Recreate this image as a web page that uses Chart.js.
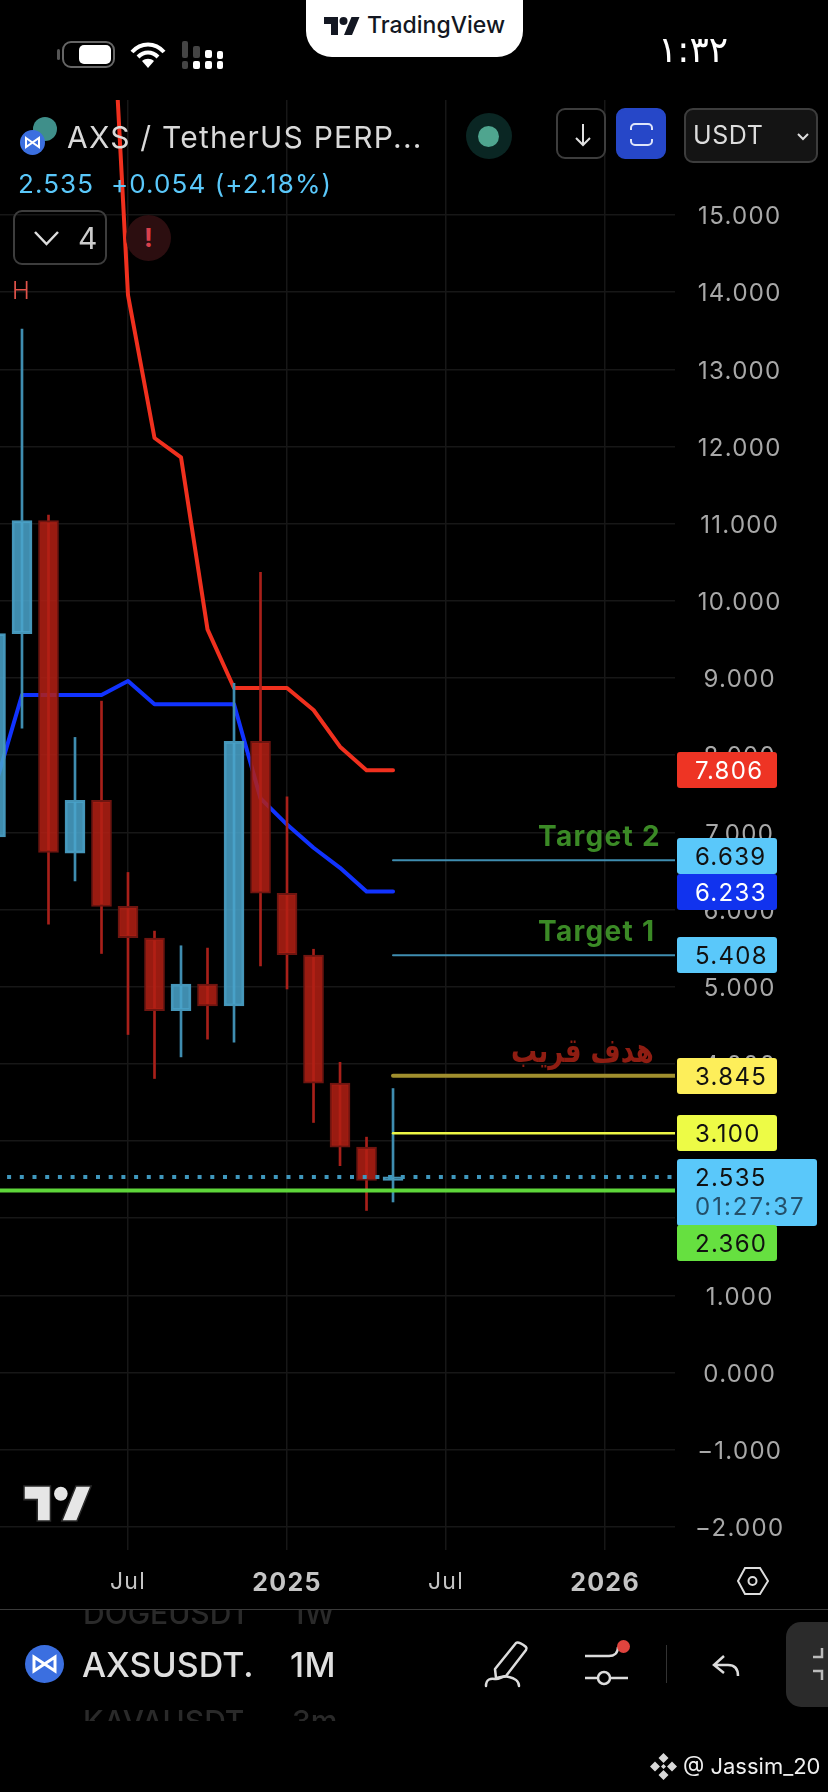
<!DOCTYPE html>
<html>
<head>
<meta charset="utf-8">
<title>AXS / TetherUS PERP</title>
<script src="https://cdn.jsdelivr.net/npm/chart.js@4/dist/chart.umd.min.js"></script>
<style>
  html, body { margin: 0; padding: 0; background: #000; }
  body { width: 828px; height: 1792px; position: relative; overflow: hidden; font-family: Inter, Roboto, sans-serif; color: #ddd; }
  canvas { position: absolute; left: 0; top: 0; }
  .abs { position: absolute; white-space: nowrap; }
  .btn { position: absolute; box-sizing: border-box; border: 2px solid #3d3d3d; border-radius: 9px; }
  svg { position: absolute; overflow: visible; }
</style>
</head>
<body>
<canvas id="chart" width="828" height="1792"></canvas>

<!-- top bar -->
<div class="abs" style="left:306px;top:0;width:217px;height:57px;background:#fff;border-radius:0 0 26px 26px"></div>
<svg style="left:324px;top:17px" width="36" height="18" viewBox="0 0 36 18"><path fill="#131722" d="M14 18H7V7H0V0h14zM28 18h-8L27.5 0h8z"/><circle cx="19.5" cy="4" r="4" fill="#131722"/></svg>
<div class="abs" style="left:367px;top:11px;font-size:23px;font-weight:500;color:#131722">TradingView</div>
<div class="abs" style="left:57px;top:49px;width:3px;height:11px;background:#555;border-radius:2px"></div>
<div class="abs" style="left:62px;top:41px;width:53px;height:27px;box-sizing:border-box;border:2px solid #666;border-radius:9px"></div>
<div class="abs" style="left:79px;top:45px;width:32px;height:19px;background:#fff;border-radius:5px"></div>
<svg style="left:130px;top:42px" width="36" height="26" viewBox="0 0 36 26" fill="none" stroke="#fff" stroke-width="4"><path d="M2 10C11 0 25 0 34 10"/><path d="M8 15C14 9 22 9 28 15"/><path fill="#fff" stroke="none" d="M18 26l-6-7c3.500-3 8.500-3 12 0z"/></svg>
<svg style="left:182px;top:41px" width="42" height="28"><g fill="#444"><rect x="0" y="0" width="6" height="17" rx="2"/><rect x="0" y="20" width="6" height="8" rx="2"/><rect x="11" y="5" width="7" height="12" rx="2"/></g><g fill="#fff"><rect x="11" y="20" width="7" height="8" rx="2"/><rect x="23" y="9" width="7" height="8" rx="2"/><rect x="23" y="20" width="7" height="8" rx="2"/><rect x="35" y="10" width="6" height="8" rx="2"/><rect x="35" y="20" width="6" height="8" rx="2"/></g></svg>
<div class="abs" style="left:658px;top:29px;font-family:'DejaVu Sans';font-size:36px;color:#fff;direction:ltr">١:٣٢</div>

<!-- symbol header -->
<div class="abs" style="left:33px;top:117px;width:24px;height:24px;border-radius:50%;background:#3f8f8a"></div>
<div class="abs" style="left:20px;top:130px;width:25px;height:25px;border-radius:50%;background:#3b6fe0"></div>
<svg style="left:20px;top:130px" width="25" height="25" viewBox="0 0 25 25" fill="none" stroke="#fff" stroke-width="2"><path d="M6 8l13 9V8L6 17z"/></svg>
<div class="abs" style="left:67px;top:119px;font-size:30px;color:#d9d9d9;letter-spacing:1.2px">AXS / TetherUS PERP...</div>
<div class="abs" style="left:18px;top:168px;font-size:26px;color:#5ac8fa;letter-spacing:1.1px">2.535&nbsp; +0.054 (+2.18%)</div>
<div class="abs" style="left:466px;top:113px;width:46px;height:46px;border-radius:50%;background:#0a2623"></div>
<div class="abs" style="left:478px;top:126px;width:21px;height:21px;border-radius:50%;background:#4fa58f"></div>

<div class="btn" style="left:556px;top:108px;width:50px;height:51px"></div>
<svg style="left:572px;top:122px" width="22" height="26" fill="none" stroke="#e0e0e0" stroke-width="2"><path d="M11 2v21M4 16l7 7 7-7"/></svg>
<div class="btn" style="left:616px;top:108px;width:50px;height:51px;background:#2647c8;border-color:#2647c8"></div>
<svg style="left:630px;top:123px" width="23" height="23" fill="none" stroke="#dfe5fa" stroke-width="2"><path d="M1 7V5a4 4 0 0 1 4-4h13a4 4 0 0 1 4 4v2M1 16v2a4 4 0 0 0 4 4h13a4 4 0 0 0 4-4v-2"/></svg>
<div class="btn" style="left:684px;top:108px;width:134px;height:55px;background:#141414"></div>
<div class="abs" style="left:693px;top:120px;font-size:25px;color:#ddd;letter-spacing:.6px">USDT</div>
<svg style="left:797px;top:133px" width="12" height="8" fill="none" stroke="#ddd" stroke-width="2"><path d="M1 1l5 5 5-5"/></svg>

<div class="btn" style="left:13px;top:210px;width:94px;height:55px"></div>
<svg style="left:34px;top:231px" width="25" height="15" fill="none" stroke="#ddd" stroke-width="2.500"><path d="M1 1l11.500 12L24 1"/></svg>
<div class="abs" style="left:78px;top:220px;font-size:30px;color:#ccc">4</div>
<div class="abs" style="left:126px;top:215px;width:45px;height:46px;border-radius:50%;background:#2c0e10"></div>
<div class="abs" style="left:126px;top:222px;width:45px;text-align:center;font-size:26px;font-weight:700;color:#d8404c">!</div>
<div class="abs" style="left:12px;top:276px;font-size:24px;font-weight:300;color:#e0534a">H</div>

<!-- watermark logo on the chart -->
<svg style="left:24px;top:1486px" width="68" height="35" viewBox="0 0 36 18" preserveAspectRatio="none"><path fill="#e6e6e6" stroke="#2a2a2a" stroke-width=".8" d="M14 18H7V7H0V0h14zM28 18h-8L27.500 0h8z"/><circle cx="19.500" cy="4" r="3.600" fill="#e6e6e6"/></svg>

<svg style="left:737px;top:1567px" width="32" height="28" fill="none" stroke="#ddd" stroke-width="2"><path d="M8 1h15l8 13-8 13H8L1 14z"/><circle cx="15.500" cy="14" r="4"/></svg>

<!-- bottom toolbar -->
<div class="abs" style="left:0;top:1609px;width:828px;height:1px;background:#3a3a3a"></div>
<div class="abs" style="left:83px;top:1610px;width:170px;height:20px;overflow:hidden"><div style="font-size:30px;font-weight:500;color:#2a2a2a;margin-top:-15px">DOGEUSDT</div></div>
<div class="abs" style="left:292px;top:1610px;width:50px;height:20px;overflow:hidden"><div style="font-size:30px;font-weight:500;color:#2a2a2a;margin-top:-15px">1W</div></div>
<div class="abs" style="left:83px;top:1704px;width:170px;height:17px;overflow:hidden"><div style="font-size:30px;font-weight:500;color:#2a2a2a;margin-top:-1px">KAVAUSDT</div></div>
<div class="abs" style="left:292px;top:1704px;width:60px;height:17px;overflow:hidden"><div style="font-size:30px;font-weight:500;color:#2a2a2a;margin-top:-1px">3m</div></div>
<div class="abs" style="left:25px;top:1645px;width:39px;height:38px;border-radius:50%;background:#3b6fe0"></div>
<svg style="left:25px;top:1645px" width="39" height="38" viewBox="0 0 39 38" fill="none" stroke="#fff" stroke-width="3"><path d="M9 12l21 14V12L9 26z"/></svg>
<div class="abs" style="left:82px;top:1644px;width:170px;overflow:hidden;font-size:34px;font-weight:500;color:#dedede">AXSUSDT.</div>
<div class="abs" style="left:290px;top:1644px;font-size:34px;font-weight:500;color:#dedede;letter-spacing:.5px">1M</div>
<svg style="left:485px;top:1641px" width="43" height="46" fill="none" stroke="#dcdcdc" stroke-width="2.500" stroke-linejoin="round" stroke-linecap="round"><path d="M10 28L31 2c2-1.500 7 1 10 4 1 1 0 3 0 3L21 35l-10 2z"/><path d="M1 45c0-7 5-8 9-7 5 1 7-4 14-2 5 1 10 4 10 9"/></svg>
<svg style="left:585px;top:1642px" width="44" height="42" fill="none" stroke="#dcdcdc" stroke-width="2.500"><path d="M0 14h24M0 36h13M25 36h18M24 14c5 0 9-3 9-9"/><circle cx="19" cy="36" r="6"/></svg>
<div class="abs" style="left:617px;top:1640px;width:13px;height:13px;border-radius:50%;background:#e0443e"></div>
<div class="abs" style="left:666px;top:1645px;width:1px;height:38px;background:#333"></div>
<svg style="left:712px;top:1655px" width="28" height="22" fill="none" stroke="#dcdcdc" stroke-width="2.500"><path d="M12 1L2 10l10 8M2 10h14c7 0 10 4 10 11"/></svg>
<div class="abs" style="left:786px;top:1622px;width:42px;height:85px;background:#2b2b2b;border-radius:15px 0 0 15px"></div>
<svg style="left:812px;top:1647px" width="16" height="34" fill="none" stroke="#bbb" stroke-width="2.500"><path d="M10 1v9H1M10 33v-9H1"/></svg>

<svg style="left:650px;top:1753px" width="27" height="27" viewBox="0 0 27 27" fill="#d8d8d8"><path d="M13.500 0l5 5-5 5-5-5zM5 8.500l5 5-5 5-5-5zM22 8.500l5 5-5 5-5-5zM13.500 11l2.500 2.500-2.500 2.500-2.500-2.500zM13.500 17l5 5-5 5-5-5z"/></svg>
<div class="abs" style="left:683px;top:1753px;font-size:22px;color:#f0f0f0">@ Jassim_20</div>

<script>
// months counted from Jan 2024 = 0
const candleMonths = [1, 2, 3, 4, 5, 6, 7, 8, 9, 10, 11, 12, 13, 14, 15, 16];
const opens  = [6.94, 9.575, 11.04, 6.73, 7.415, 6.04, 5.63, 4.69, 5.035, 4.75, 8.18, 6.21, 5.41, 3.75, 2.92, 2.49];
const highs  = [9.80, 13.52, 11.11, 8.23, 8.70, 6.48, 5.72, 5.53, 5.50, 8.93, 10.37, 7.46, 5.485, 4.02, 3.05, 3.68];
const lows   = [6.50, 8.35, 5.81, 6.37, 5.43, 4.38, 3.81, 4.09, 4.32, 4.28, 5.27, 4.97, 3.24, 2.68, 2.10, 2.21];
const closes = [9.575, 11.04, 6.74, 7.415, 6.04, 5.635, 4.69, 5.035, 4.75, 8.18, 6.21, 5.415, 3.75, 2.92, 2.49, 2.535];

const redMonths = [5, 6, 7, 8, 9, 10, 11, 12, 13, 14, 15, 16];
const redValues = [20.5, 13.96, 12.11, 11.86, 9.63, 8.87, 8.87, 8.87, 8.585, 8.11, 7.806, 7.806];
const blueMonths = [1, 2, 3, 4, 5, 6, 7, 8, 9, 10, 11, 12, 13, 14, 15, 16];
const blueValues = [7.61, 8.78, 8.78, 8.78, 8.78, 8.96, 8.66, 8.66, 8.66, 8.66, 7.44, 7.10, 6.80, 6.54, 6.233, 6.233];

const priceTicks = [15, 14, 13, 12, 11, 10, 9, 8, 7, 6, 5, 4, 3, 2, 1, 0, -1, -2];
const timeTicks = [6, 12, 18, 24];
const timeLabels = ['Jul', '2025', 'Jul', '2026'];

// horizontal levels and their price tags
const levelPrices = [6.639, 5.408, 3.845, 3.100];
const levelColors = ['#3f8db0', '#3f8db0', '#a08f2e', '#ecf545'];
const levelWidths = [2, 2, 4, 2.5];
const lastPrice = 2.535;
const supportPrice = 2.360;

const tagValues = [7.806, 6.639, 6.233, 5.408, 3.845, 3.100, 2.535, 2.360];
const tagFills  = ['#ee3424', '#5ac8fa', '#1133ee', '#5ac8fa', '#fdee5a', '#edfb46', '#5ac8fa', '#66e040'];
const tagInks   = ['#fff', '#111', '#fff', '#111', '#111', '#111', '#111', '#111'];
const tagNudge  = [0, -4, 0, 0, 0, 0, 0, 53];
const countdown = '01:27:37';

const noteLevels = [6.639, 5.408, 3.845];
const noteTexts = ['Target 2', 'Target 1', 'هدف قريب'];
const noteColors = ['#3b8a26', '#3b8a26', '#8f1d12'];

const upFill = 'rgba(74,165,205,0.85)', downFill = 'rgba(180,32,20,0.85)';
const upEdge = '#4595b8', downEdge = '#6e1510';
const isUp = i => closes[i] >= opens[i];
const PRICE_FONT = '400 24px Inter, Roboto, sans-serif';

function lineSet(xs, ys, color, width, order, extra) {
    return Object.assign({
        type: 'line',
        data: xs.map((x, i) => ({ x: x, y: ys[i] })),
        borderColor: color,
        borderWidth: width,
        pointRadius: 0,
        tension: 0,
        borderCapStyle: 'round',
        borderJoinStyle: 'round',
        order: order
    }, extra || {});
}

// price tags on the right plus the notes over the target lines
const tagsPlugin = {
    id: 'tags',
    beforeDraw(chart) {
        // tick text in the screenshot runs wider than Inter
        chart.ctx.letterSpacing = '1.3px';
    },
    afterDraw(chart) {
        const ctx = chart.ctx, y = chart.scales.y;
        ctx.save();
        ctx.textBaseline = 'middle';
        tagValues.forEach((v, i) => {
            const cy = Math.round(y.getPixelForValue(v)) + tagNudge[i];
            const isLast = v === lastPrice;
            ctx.fillStyle = tagFills[i];
            ctx.beginPath();
            if (isLast) ctx.roundRect(677, cy - 18, 140, 67, 3);
            else ctx.roundRect(677, cy - 18, 100, 36, 3);
            ctx.fill();
            ctx.font = PRICE_FONT;
            ctx.textAlign = 'left';
            ctx.letterSpacing = '1.3px';
            ctx.fillStyle = tagInks[i];
            ctx.fillText(v.toFixed(3), 695, cy + 2);
            if (isLast) {
                ctx.letterSpacing = '2px';
                ctx.fillStyle = '#24506a';
                ctx.fillText(countdown, 695, cy + 31);
            }
        });
        noteTexts.forEach((t, i) => {
            const cy = y.getPixelForValue(noteLevels[i]) - 23;
            ctx.fillStyle = noteColors[i];
            ctx.textAlign = 'left';
            if (i < 2) {
                ctx.font = '700 28px Inter, sans-serif';
                ctx.letterSpacing = '1.3px';
                ctx.fillText(t, 538, cy);
            } else {
                // DejaVu's Arabic is wide and low, stretch it to the height in the picture
                ctx.font = '700 26px "DejaVu Sans", sans-serif';
                ctx.letterSpacing = '0px';
                ctx.save();
                ctx.translate(511, cy);
                ctx.scale(1, 1.3);
                ctx.fillText(t, 0, 0);
                ctx.restore();
            }
        });
        ctx.restore();
    }
};

const rayFrom = 16, rayTo = 28;
const datasets = [
    lineSet(redMonths, redValues, '#f0301e', 4, 5),
    lineSet(blueMonths, blueValues, '#1133ff', 4, 6),
    {
        type: 'bar',
        data: candleMonths.map((m, i) => ({ x: m, y: [opens[i], closes[i]] })),
        backgroundColor: ctx => isUp(ctx.dataIndex) ? upFill : downFill,
        borderColor: ctx => isUp(ctx.dataIndex) ? upEdge : downEdge,
        borderWidth: 2,
        borderSkipped: false,
        barThickness: 20,
        grouped: false,
        order: 3
    },
    {
        type: 'bar',
        data: candleMonths.map((m, i) => ({ x: m, y: [lows[i], highs[i]] })),
        backgroundColor: ctx => isUp(ctx.dataIndex) ? '#3f8db0' : '#a8201a',
        borderWidth: 0,
        barThickness: 2,
        grouped: false,
        order: 4
    },
    lineSet([0, rayTo], [lastPrice, lastPrice], '#3f97bd', 4, 1, { borderDash: [4, 8.7], borderCapStyle: 'butt' }),
    lineSet([0, rayTo], [supportPrice, supportPrice], '#5ed63a', 4, 0, { borderCapStyle: 'butt' })
];
levelPrices.forEach((p, i) => {
    datasets.push(lineSet([rayFrom, rayTo], [p, p], levelColors[i], levelWidths[i], 2));
});

new Chart(document.getElementById('chart'), {
    type: 'bar',
    data: { datasets: datasets },
    plugins: [tagsPlugin],
    options: {
        responsive: false,
        animation: false,
        devicePixelRatio: 1,
        layout: { padding: { top: 100, left: 0, right: 0, bottom: 0 } },
        plugins: { legend: { display: false }, tooltip: { enabled: false } },
        scales: {
            x: {
                type: 'linear',
                offset: false,
                min: 1.17,
                max: 26.64,
                grid: { color: '#171717', lineWidth: 1.5, offset: false, drawTicks: false },
                border: { display: false },
                afterBuildTicks: s => { s.ticks = timeTicks.map(v => ({ value: v })); },
                afterFit: s => { s.height = 242; },
                ticks: {
                    padding: 18,
                    maxRotation: 0,
                    autoSkip: false,
                    color: '#c4c4c4',
                    font: c => {
                        const isYear = c.tick && timeLabels[timeTicks.indexOf(c.tick.value)] !== 'Jul';
                        return { family: 'Inter', size: isYear ? 25 : 23, weight: isYear ? '700' : '400' };
                    },
                    callback: v => timeLabels[timeTicks.indexOf(v)]
                }
            },
            y: {
                position: 'right',
                min: -2.30,
                max: 16.49,
                grid: { color: '#171717', lineWidth: 1.5, drawTicks: false },
                border: { display: false },
                afterBuildTicks: s => { s.ticks = priceTicks.map(v => ({ value: v })); },
                afterFit: s => { s.width = 153; },
                ticks: {
                    padding: 24,
                    labelOffset: 2,
                    crossAlign: 'center',
                    autoSkip: false,
                    color: '#a8a8a8',
                    font: { family: 'Inter', size: 24 },
                    callback: v => v.toFixed(3).replace('-', '\u2212')
                }
            }
        }
    }
});
</script>
</body>
</html>
